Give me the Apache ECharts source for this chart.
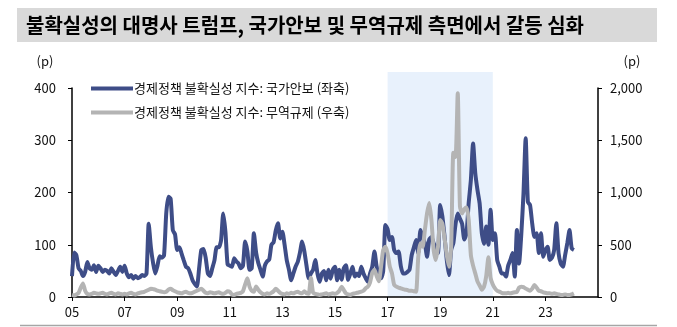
<!DOCTYPE html>
<html><head><meta charset="utf-8">
<script src="https://cdn.jsdelivr.net/npm/echarts@6/dist/echarts.min.js"></script>
<style>html,body{margin:0;padding:0;background:#fff}#c{width:677px;height:327px}</style>
</head><body><div id="c"></div>
<script>
const titleText = '불확실성의 대명사 트럼프, 국가안보 및 무역규제 측면에서 갈등 심화';
const seriesNames = ['경제정책 불확실성 지수: 국가안보 (좌축)', '경제정책 불확실성 지수: 무역규제 (우축)'];
const xTickLabels = ['05','07','09','11','13','15','17','19','21','23'];
const leftTicks = [0,100,200,300,400];
const rightTicks = [0,500,1000,1500,2000];
const shadeRange = ['2017-01','2021-01'];
// monthly, 2005-01 .. 2024-02
const security = [
 40,85,80,55,50,40,48,67,55,52,61,48,
 60,55,48,52,50,45,55,48,42,50,58,48,
 60,45,38,42,35,40,36,38,42,40,45,140,
 95,65,45,60,78,75,80,160,192,188,128,120,
 90,95,83,70,58,55,45,32,25,20,55,90,
 92,75,45,40,55,70,95,95,108,160,125,62,
 60,58,74,68,64,55,60,106,88,52,55,122,
 85,65,52,39,60,68,72,100,105,128,141,112,
 125,100,70,52,32,45,58,67,85,106,88,60,
 36,45,52,71,45,29,45,50,32,52,35,52,
 58,32,52,33,55,61,33,45,58,39,45,40,
 58,45,36,29,45,58,87,58,40,36,50,138,
 130,109,115,90,84,87,60,45,45,48,52,80,
 95,109,84,128,115,103,77,110,115,103,95,84,
 176,154,115,71,42,90,103,140,160,150,140,110,
 122,180,224,294,237,205,179,122,102,135,100,167,
 109,122,71,58,45,45,39,60,71,84,39,128,
 64,120,198,304,182,176,140,115,122,84,122,77,
 90,96,71,75,90,141,84,64,58,80,103,128,
 93,90
];
const trade = [
 20,15,25,40,90,130,60,30,25,30,40,35,
 30,35,40,30,25,35,40,30,25,35,30,25,
 30,25,35,40,30,25,35,40,45,50,60,70,
 80,75,70,60,55,50,45,50,70,80,65,55,
 45,40,35,45,50,40,35,40,50,60,70,80,
 60,40,35,45,40,35,40,45,35,30,40,55,
 50,25,20,30,35,40,55,120,180,100,60,50,
 100,70,45,30,25,35,30,40,55,80,60,40,
 30,25,35,30,40,35,45,50,40,35,55,35,
 30,185,40,30,25,20,25,30,35,25,30,35,
 30,40,60,99,67,35,25,19,30,35,40,45,
 51,60,83,99,140,230,260,200,150,290,450,480,
 418,290,226,115,99,90,83,75,70,67,60,60,
 55,51,386,514,480,641,800,900,737,450,354,482,
 737,700,560,400,290,480,1380,1340,1950,870,800,840,
 860,740,400,300,226,150,110,70,100,200,380,180,
 120,83,60,51,40,35,35,40,35,40,45,50,
 90,99,95,80,70,60,80,115,90,60,55,45,
 40,35,35,30,35,30,25,20,20,25,20,20,
 25,35
];
const months = [];
for (let y = 2005; y <= 2025; y++) {
  for (let m = 1; m <= 12; m++) {
    if (y === 2025 && m > 1) break;
    months.push(y + '-' + (m < 10 ? '0' + m : '' + m));
  }
}
const isTick = (i, v) => v.slice(5) === '01' && xTickLabels.indexOf(v.slice(2,4)) >= 0;
const FONT = '"Noto Sans CJK KR", "Noto Sans", sans-serif';
const chart = echarts.init(document.getElementById('c'));
chart.setOption({
  animation: false,
  textStyle: {fontFamily: FONT},
  grid: {left: 72, right: 79, top: 88, bottom: 30},
  legend: {
    data: seriesNames, orient: 'vertical', left: 86, top: 77,
    itemWidth: 42, itemHeight: 4, itemGap: 11, icon: 'rect',
    textStyle: {fontSize: 13, color: '#111', fontFamily: FONT, padding: [0,0,0,-4]}
  },
  xAxis: {
    type: 'category', data: months, boundaryGap: false,
    axisLine: {lineStyle: {color: '#000', width: 1.5}},
    axisTick: {interval: isTick, length: 4, lineStyle: {color: '#000', width: 1}},
    axisLabel: {interval: isTick, formatter: v => v.slice(2,4), margin: 9, fontSize: 13, color: '#111', fontFamily: FONT}
  },
  yAxis: [
    {type: 'value', min: leftTicks[0], max: leftTicks[leftTicks.length-1], interval: leftTicks[1]-leftTicks[0],
     splitLine: {show: false},
     axisLine: {show: true, lineStyle: {color: '#000', width: 1.5}},
     axisTick: {show: true, length: 4, lineStyle: {color: '#000'}},
     axisLabel: {margin: 16, fontSize: 13, color: '#111', fontFamily: FONT}},
    {type: 'value', min: rightTicks[0], max: rightTicks[rightTicks.length-1], interval: rightTicks[1]-rightTicks[0],
     splitLine: {show: false},
     axisLine: {show: true, lineStyle: {color: '#000', width: 1.5}},
     axisTick: {show: true, length: 4, lineStyle: {color: '#000'}},
     axisLabel: {margin: 12, fontSize: 13, color: '#111', fontFamily: FONT,
       formatter: v => v.toLocaleString('en-US')}}
  ],
  series: [
    {name: seriesNames[0], type: 'line', data: security, yAxisIndex: 0, showSymbol: false, smooth: 0.2,
     lineStyle: {color: '#3e4d87', width: 4}, itemStyle: {color: '#3e4d87'}, z: 3},
    {name: seriesNames[1], type: 'line', data: trade, yAxisIndex: 1, showSymbol: false, smooth: 0.2,
     lineStyle: {color: '#b4b4b4', width: 4}, itemStyle: {color: '#b4b4b4'}, z: 4}
  ],
  graphic: [
    {id: 'tbar', type: 'rect', shape: {x: 17, y: 8, width: 640, height: 34}, style: {fill: '#d9d9d9'}, z: 0},
    {id: 'ttext', type: 'text', x: 26, y: 25, style: {text: titleText, font: 'bold 20px ' + FONT, fill: '#000', textVerticalAlign: 'middle'}, z: 1},
    {id: 'pl', type: 'text', x: 45, y: 61, style: {text: '(p)', font: '13px ' + FONT, fill: '#111', textAlign: 'center', textVerticalAlign: 'middle'}},
    {id: 'pr', type: 'text', x: 632, y: 61, style: {text: '(p)', font: '13px ' + FONT, fill: '#111', textAlign: 'center', textVerticalAlign: 'middle'}},
    {id: 'bline', type: 'line', shape: {x1: 20, y1: 325.5, x2: 657, y2: 325.5}, style: {stroke: '#a6a6a6', lineWidth: 1.5}}
  ]
});
const sx0 = chart.convertToPixel({xAxisIndex: 0}, shadeRange[0]);
const sx1 = chart.convertToPixel({xAxisIndex: 0}, shadeRange[1]);
const sy0 = chart.convertToPixel({yAxisIndex: 0}, 0);
chart.setOption({graphic: [
  {id: 'shade', type: 'rect', shape: {x: sx0, y: 72, width: sx1 - sx0, height: sy0 - 72}, style: {fill: '#e8f1fc'}, z: -1, silent: true}
]});
</script></body></html>
